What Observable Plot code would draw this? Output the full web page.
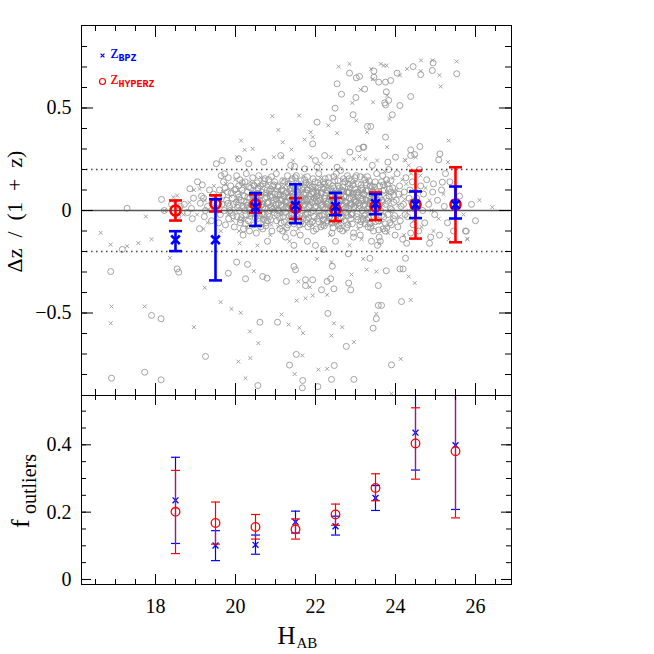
<!DOCTYPE html>
<html><head><meta charset="utf-8">
<script src="https://cdn.jsdelivr.net/npm/d3@7"></script>
<script src="https://cdn.jsdelivr.net/npm/@observablehq/plot@0.6"></script>
<style>
html,body{margin:0;padding:0;background:#fff;}
#chart{position:relative;width:654px;height:654px;overflow:hidden;}
#chart svg{display:block;}
</style></head><body><div id="chart"></div>
<script>
// ---------- DATA ----------
// Binned statistics (bin centres in H_AB)
const binH = [18.5, 19.5, 20.5, 21.5, 22.5, 23.5, 24.5, 25.5];
// top panel: median Δz/(1+z) and error bar ends
const bpzMean  = [-0.143, -0.143, 0.016, 0.024, 0.020, 0.033, 0.029, 0.029];
const bpzLow   = [-0.198, -0.341, -0.075, -0.062, -0.023, -0.018, -0.037, -0.039];
const bpzHigh  = [-0.101, 0.055, 0.085, 0.128, 0.086, 0.080, 0.093, 0.117];
const hypMean  = [0.000, 0.033, 0.030, 0.013, 0.005, 0.020, 0.029, 0.029];
const hypLow   = [-0.049, -0.005, -0.011, -0.041, -0.052, -0.047, -0.137, -0.155];
const hypHigh  = [0.049, 0.074, 0.078, 0.060, 0.061, 0.088, 0.194, 0.211];
// bottom panel: outlier fractions and error bar ends
const foutBpz      = [0.235, 0.101, 0.103, 0.171, 0.158, 0.242, 0.436, 0.399];
const foutBpzLow   = [0.107, 0.056, 0.075, 0.138, 0.132, 0.205, 0.325, 0.208];
const foutBpzHigh  = [0.363, 0.145, 0.132, 0.203, 0.188, 0.279, 0.580, 0.600];
const foutHyp      = [0.201, 0.168, 0.156, 0.149, 0.193, 0.272, 0.404, 0.381];
const foutHypLow   = [0.077, 0.105, 0.120, 0.120, 0.161, 0.234, 0.298, 0.183];
const foutHypHigh  = [0.324, 0.230, 0.193, 0.180, 0.224, 0.314, 0.510, 0.600];

// Individual galaxies: [H_AB, Δz/(1+z)] — crosses (BPZ)
const bpzOutliers = [[22.58,0.702],[22.85,0.715],[23.13,0.589],[22.92,0.525],[23.39,0.691],[23.44,0.641],[23.63,0.715],[23.71,0.707],[23.78,0.707],[23.79,0.561],[23.44,0.528],[24.11,0.659],[24.29,0.691],[24.64,0.732],[24.63,0.68],[24.93,0.732],[25.10,0.66],[25.13,0.605],[25.53,0.727],[23.02,0.439],[23.29,0.382],[23.85,0.447],[22.54,0.377],[21.88,0.382],[21.93,0.358],[22.32,0.415],[21.73,0.346],[21.59,0.463],[20.92,0.46],[21.07,0.393],[21.18,0.333],[20.43,0.301],[20.23,0.296],[20.14,0.341],[23.79,0.309],[25.33,0.341],[25.31,0.236],[24.23,0.247],[24.33,0.22],
[20.04,0.26],[20.96,0.26],[21.17,0.26],[21.44,0.244],[21.40,0.298],[21.88,0.26],[22.13,0.228],[22.38,0.26],[22.71,0.244],[22.96,0.252],[23.10,0.263],[23.25,0.252],[23.54,0.244],[24.25,0.244],[24.5,0.26],
[16.63,-0.109],[16.88,-0.166],[17.29,-0.174],[17.57,-0.159],[17.90,-0.140],[17.76,-0.029],[18.36,-0.231],[16.90,-0.468],[16.88,-0.55],[17.73,-0.468],[18.96,-0.569],[19.23,-0.377],[19.63,-0.447],[19.90,-0.48],[20.13,-0.499],[20.46,-0.296],[20.36,-0.59],[20.07,-0.737],[20.25,-0.818],[20.37,-0.72],[20.57,-0.647],[21.15,-0.507],[21.57,-0.346],[21.86,-0.374],[21.53,-0.439],[21.75,-0.428],[21.93,-0.415],[21.33,-0.556],[21.60,-0.572],[21.69,-0.598],[21.67,-0.707],[21.48,-0.798],[22.07,-0.776],[22.29,-0.772],[22.96,-0.642],[22.40,-0.61],[22.46,-0.55],[22.67,-0.569],[22.29,-0.411],[22.40,-0.252],[22.17,-0.192],[22.04,-0.236],[22.90,-0.312],[23.19,-0.236],[23.28,-0.288],[23.52,-0.298],[23.52,-0.504],[24.13,-0.724],[24.38,-0.436],[24.33,-0.322],[24.48,-0.354],[23.90,-0.894],[25.79,-0.138],
[21.35,-0.15],[22.85,-0.17],[23.15,-0.14],[23.6,-0.16],[20.55,-0.17],[20.1,-0.16]];
const bpzCore = [[18.23,0.0],[18.54,0.073],[18.96,0.1],[18.7,-0.02],[18.45,0.065],[18.85,0.04],
[19.1,0.105],[19.23,0.05],[19.3,-0.06],[19.38,0.03],[19.46,0.12],[19.2,-0.09],[19.04,-0.02],
[19.57,0.02],[19.63,-0.1],[19.69,0.09],[19.76,0.13],[19.81,-0.02],[19.87,0.07],[19.93,-0.05],[19.99,0.15],[19.6,0.05],
[20.05,0.06],[20.13,0.09],[20.17,-0.04],[20.21,0.03],[20.25,0.11],[20.29,-0.08],[20.33,0.02],[20.37,0.14],[20.41,0.06],[20.45,-0.03],[20.49,0.09],[20.09,-0.1],
[20.54,0.03],[20.6,0.09],[20.66,-0.05],[20.72,0.12],[20.78,0.02],[20.84,0.07],[20.9,-0.07],[20.96,0.1],[20.57,-0.02],[20.63,0.16],[20.75,0.04],[20.87,-0.12],[20.99,0.01],[20.81,0.13],
[21.04,0.06],[21.1,0.1],[21.16,-0.02],[21.22,0.04],[21.28,0.13],[21.34,-0.06],[21.4,0.08],[21.46,0.02],[21.07,-0.08],[21.19,0.15],[21.31,0.03],[21.43,-0.03],[21.13,0.085],[21.37,0.115],[21.25,-0.1],
[21.54,0.05],[21.6,0.1],[21.66,-0.03],[21.72,0.07],[21.78,0.14],[21.84,-0.05],[21.9,0.03],[21.96,0.11],[21.57,-0.09],[21.69,0.17],[21.81,0.0],[21.93,-0.07],[21.63,0.085],[21.75,0.04],[21.87,0.125],[21.99,0.06],
[22.03,0.03],[22.09,0.09],[22.15,-0.05],[22.21,0.12],[22.27,0.02],[22.33,0.07],[22.39,-0.07],[22.45,0.1],[22.06,-0.02],[22.12,0.16],[22.24,0.04],[22.36,-0.12],[22.48,0.01],[22.3,0.13],[22.18,0.065],[22.42,0.045],
[22.54,0.06],[22.6,0.1],[22.66,-0.02],[22.72,0.04],[22.78,0.13],[22.84,-0.06],[22.9,0.08],[22.96,0.02],[22.57,-0.08],[22.69,0.15],[22.81,0.03],[22.93,-0.03],[22.63,0.085],[22.87,0.115],[22.75,-0.1],[22.99,0.07],
[23.04,0.05],[23.1,0.1],[23.16,-0.03],[23.22,0.07],[23.28,0.14],[23.34,-0.05],[23.4,0.03],[23.46,0.11],[23.07,-0.09],[23.19,0.17],[23.31,0.0],[23.43,-0.07],[23.13,0.085],[23.25,0.04],[23.37,0.125],
[23.52,0.06],[23.58,0.1],[23.64,-0.06],[23.7,0.03],[23.76,0.13],[23.82,-0.11],[23.88,0.05],[23.94,0.16],[23.61,-0.02],[23.73,0.19],[23.85,0.0],[23.97,0.09],
[24.03,0.1],[24.09,-0.03],[24.15,0.07],[24.21,-0.12],[24.27,0.13],[24.33,0.0],[24.39,0.18],[24.45,-0.05],[24.17,0.15],
[24.55,0.02],[24.65,-0.08],[24.75,0.11],[24.85,0.05],[24.95,-0.1],[24.62,0.17],[24.9,0.0],
[25.08,-0.04],[25.2,0.08],[25.33,-0.14],[25.5,0.11],[25.7,-0.02],[25.8,-0.14],[26.42,0.016],[26.1,0.05],
[20.03,0.045],[20.19,0.125],[20.31,-0.035],[20.47,0.035],[20.61,0.055],[20.69,-0.035],[20.83,0.085],[20.93,0.025],[21.05,0.015],[21.21,0.115],[21.33,0.085],[21.47,-0.055],[21.59,0.035],[21.71,-0.015],[21.83,0.095],[21.97,-0.045],[22.05,0.105],[22.19,0.035],[22.31,-0.035],[22.47,0.075],[22.59,0.025],[22.73,0.095],[22.85,-0.015],[22.97,0.135],[23.05,0.015],[23.21,0.095],[23.33,0.055],[23.49,-0.025],[23.63,0.045],[23.79,0.085],[23.91,-0.045],[24.07,0.025],[24.23,0.055],[24.41,0.095]];

// circles (HYPERZ)
const hypOutliers = [[22.85,0.67],[22.54,0.618],[22.65,0.567],[23.02,0.647],[23.10,0.654],[23.23,0.592],[23.01,0.551],[22.49,0.499],[23.46,0.68],[23.46,0.65],[23.58,0.626],[23.75,0.626],[23.88,0.634],[23.77,0.579],[23.83,0.537],[23.75,0.515],[23.73,0.525],[24.11,0.512],[24.04,0.67],[24.44,0.702],[24.63,0.663],[24.92,0.683],[24.94,0.72],[25.53,0.667],[24.38,0.556],[22.94,0.467],[23.30,0.41],[23.38,0.41],[23.92,0.467],[22.43,0.45],[22.04,0.431],[21.93,0.325],[23.75,0.358],[24.61,0.312],[24.38,0.296],[23.21,0.309],[24.48,0.273],[25.11,0.276],[25.08,0.247],[24.0,0.26],[23.81,0.236],[25.17,0.138],
[19.52,0.228],[19.67,0.244],[19.73,0.179],[20.08,0.252],[20.33,0.228],[20.71,0.236],[21.13,0.268],[21.38,0.22],[21.48,0.215],[21.73,0.203],[22.0,0.244],[22.23,0.268],[22.04,0.211],[22.54,0.211],[22.63,0.195],[22.86,0.285],[23.08,0.301],[23.19,0.309],[23.42,0.22],[24.38,0.268],
[17.29,0.011],[17.17,-0.19],[18.54,-0.285],[18.58,-0.301],[16.88,-0.298],[17.90,-0.512],[18.14,-0.528],[16.9,-0.818],[17.73,-0.789],[18.14,-0.826],[19.25,-0.712],[19.82,-0.306],[20.03,-0.252],[20.30,-0.263],[20.25,-0.333],[20.68,-0.322],[20.79,-0.33],[20.61,-0.545],[20.56,-0.854],[21.27,-0.346],[21.46,-0.273],[21.5,-0.289],[21.75,-0.338],[21.75,-0.366],[21.93,-0.338],[21.52,-0.702],[21.35,-0.754],[21.68,-0.829],[21.67,-0.865],[22.06,-0.859],[22.47,-0.756],[22.40,-0.824],[22.96,-0.824],[22.77,-0.663],[22.31,-0.502],[22.15,-0.387],[22.29,-0.346],[22.38,-0.333],[22.46,-0.382],[22.42,-0.272],[22.82,-0.211],[22.83,-0.354],[22.88,-0.387],[23.36,-0.233],[23.77,-0.294],[23.57,-0.366],[23.57,-0.463],[23.65,-0.463],[23.52,-0.528],[23.44,-0.574],[23.90,-0.753],[24.15,-0.444],[24.11,-0.285],[24.19,-0.285],[24.25,-0.233],[25.77,-0.101],[21.05,-0.545],
[21.25,-0.13],[21.46,-0.17],[22.0,-0.17],[22.2,-0.19],[22.5,-0.15],[22.95,-0.13],[23.4,-0.15],[23.55,-0.17],[20.8,-0.15],[21.8,-0.15]];
const hypCore = [[18.15,0.054],[18.22,0.0],[18.4,0.03],[18.62,0.02],[18.86,0.106],[18.92,-0.04],[18.72,0.03],[18.8,-0.01],[18.95,0.06],[18.55,-0.03],[18.9,0.01],
[19.05,0.14],[19.17,0.125],[19.1,-0.089],[19.2,0.06],[19.25,0.0],[19.3,0.02],[19.12,0.035],[19.4,-0.05],[19.45,0.08],[19.35,0.1],[19.22,-0.03],[19.48,0.01],[19.15,0.07],[19.42,0.045],
[19.55,0.06],[19.6,0.1],[19.62,-0.02],[19.66,0.03],[19.7,0.14],[19.72,0.0],[19.75,-0.07],[19.78,0.05],[19.8,0.09],[19.83,-0.04],[19.85,0.02],[19.88,0.12],[19.9,-0.01],[19.92,0.06],[19.95,0.03],[19.97,-0.08],[19.58,-0.06],[19.68,0.075],[19.74,0.11],[19.86,0.0],[19.98,0.1],[19.64,0.17],[19.82,0.16],
[20.02,0.04],[20.04,-0.03],[20.06,0.08],[20.08,0.12],[20.1,0.0],[20.12,-0.06],[20.14,0.05],[20.16,0.1],[20.18,0.02],[20.2,-0.09],[20.22,0.07],[20.24,0.14],[20.26,-0.02],[20.28,0.04],[20.3,0.09],[20.32,-0.05],[20.34,0.01],[20.36,0.06],[20.38,0.11],[20.4,-0.01],[20.42,0.03],[20.44,0.08],[20.46,-0.07],[20.48,0.05],[20.03,0.17],[20.11,0.15],[20.19,-0.12],[20.27,0.18],[20.35,-0.1],[20.43,0.16],[20.07,0.025],[20.15,-0.035],[20.23,0.0],[20.31,0.065],[20.39,0.03],[20.47,0.12],
[20.51,0.02],[20.53,0.07],[20.55,-0.04],[20.57,0.11],[20.59,0.0],[20.61,0.05],[20.63,-0.08],[20.65,0.09],[20.67,0.03],[20.69,0.13],[20.71,-0.02],[20.73,0.06],[20.75,0.01],[20.77,-0.06],[20.79,0.1],[20.81,0.04],[20.83,0.15],[20.85,-0.03],[20.87,0.07],[20.89,0.02],[20.91,-0.1],[20.93,0.12],[20.95,0.05],[20.97,-0.01],[20.99,0.08],[20.52,-0.11],[20.58,0.17],[20.64,0.025],[20.7,-0.045],[20.76,0.085],[20.82,-0.015],[20.88,0.105],[20.94,0.035],[20.56,0.045],[20.62,0.12],[20.68,-0.09],[20.74,0.155],[20.8,-0.05],[20.86,0.0],[20.92,0.065],[20.98,0.14],
[21.01,0.03],[21.03,-0.05],[21.05,0.08],[21.07,0.12],[21.09,0.0],[21.11,-0.09],[21.13,0.05],[21.15,0.1],[21.17,0.02],[21.19,-0.03],[21.21,0.07],[21.23,0.14],[21.25,-0.01],[21.27,0.04],[21.29,0.09],[21.31,-0.07],[21.33,0.01],[21.35,0.06],[21.37,0.11],[21.39,-0.02],[21.41,0.03],[21.43,0.08],[21.45,-0.11],[21.47,0.05],[21.49,0.16],[21.02,0.18],[21.08,0.035],[21.14,-0.06],[21.2,0.095],[21.26,0.015],[21.32,0.13],[21.38,-0.04],[21.44,0.065],[21.06,0.0],[21.12,0.075],[21.18,-0.1],[21.24,0.045],[21.3,0.17],[21.36,0.025],[21.42,-0.015],[21.48,0.105],[21.04,-0.02],[21.16,0.055],[21.28,-0.085],[21.4,0.145],
[21.51,0.04],[21.53,-0.03],[21.55,0.09],[21.57,0.13],[21.59,0.01],[21.61,-0.07],[21.63,0.06],[21.65,0.11],[21.67,0.0],[21.69,-0.04],[21.71,0.08],[21.73,0.15],[21.75,-0.02],[21.77,0.05],[21.79,0.1],[21.81,-0.08],[21.83,0.02],[21.85,0.07],[21.87,0.12],[21.89,-0.01],[21.91,0.04],[21.93,0.09],[21.95,-0.1],[21.97,0.06],[21.99,0.14],[21.52,0.17],[21.58,0.035],[21.64,-0.055],[21.7,0.025],[21.76,0.135],[21.82,-0.035],[21.88,0.055],[21.94,0.0],[21.56,0.075],[21.62,-0.12],[21.68,0.1],[21.74,0.03],[21.8,0.165],[21.86,-0.065],[21.92,0.115],[21.98,0.015],[21.54,-0.015],[21.66,0.045],[21.78,-0.045],[21.9,0.08],[21.96,-0.03],[21.6,0.12],
[22.01,0.02],[22.03,0.07],[22.05,-0.04],[22.07,0.11],[22.09,0.0],[22.11,0.05],[22.13,-0.08],[22.15,0.09],[22.17,0.03],[22.19,0.14],[22.21,-0.02],[22.23,0.06],[22.25,0.01],[22.27,-0.06],[22.29,0.1],[22.31,0.04],[22.33,0.16],[22.35,-0.03],[22.37,0.07],[22.39,0.02],[22.41,-0.11],[22.43,0.12],[22.45,0.05],[22.47,-0.01],[22.49,0.08],[22.02,-0.09],[22.08,0.18],[22.14,0.025],[22.2,-0.045],[22.26,0.085],[22.32,-0.015],[22.38,0.105],[22.44,0.035],[22.06,0.045],[22.12,0.125],[22.18,-0.07],[22.24,0.155],[22.3,-0.05],[22.36,0.0],[22.42,0.065],[22.48,0.145],[22.04,0.09],[22.16,-0.025],[22.28,0.03],[22.4,-0.06],[22.46,0.11],[22.1,0.06],[22.22,0.13],[22.34,0.055],
[22.51,0.03],[22.53,-0.05],[22.55,0.08],[22.57,0.12],[22.59,0.0],[22.61,-0.09],[22.63,0.05],[22.65,0.1],[22.67,0.02],[22.69,-0.03],[22.71,0.07],[22.73,0.14],[22.75,-0.01],[22.77,0.04],[22.79,0.09],[22.81,-0.07],[22.83,0.01],[22.85,0.06],[22.87,0.11],[22.89,-0.02],[22.91,0.03],[22.93,0.08],[22.95,-0.11],[22.97,0.05],[22.99,0.16],[22.52,0.18],[22.58,0.035],[22.64,-0.06],[22.7,0.095],[22.76,0.015],[22.82,0.13],[22.88,-0.04],[22.94,0.065],[22.56,0.0],[22.62,0.075],[22.68,-0.1],[22.74,0.045],[22.8,0.17],[22.86,0.025],[22.92,-0.015],[22.98,0.105],[22.54,-0.02],[22.66,0.055],[22.78,-0.085],[22.9,0.145],[22.6,0.11],[22.72,-0.05],[22.84,0.09],[22.96,0.02],
[23.01,0.04],[23.03,-0.03],[23.05,0.09],[23.07,0.13],[23.09,0.01],[23.11,-0.07],[23.13,0.06],[23.15,0.11],[23.17,0.0],[23.19,-0.04],[23.21,0.08],[23.23,0.15],[23.25,-0.02],[23.27,0.05],[23.29,0.1],[23.31,-0.08],[23.33,0.02],[23.35,0.07],[23.37,0.12],[23.39,-0.01],[23.41,0.04],[23.43,0.09],[23.45,-0.1],[23.47,0.06],[23.49,0.14],[23.02,0.17],[23.08,0.035],[23.14,-0.055],[23.2,0.025],[23.26,0.135],[23.32,-0.035],[23.38,0.055],[23.44,0.0],[23.06,0.075],[23.12,-0.12],[23.18,0.1],[23.24,0.03],[23.3,0.165],[23.36,-0.065],[23.42,0.115],[23.48,0.015],[23.04,-0.015],[23.16,0.045],[23.28,-0.045],[23.4,0.08],[23.46,-0.03],
[23.51,0.02],[23.54,0.08],[23.57,-0.05],[23.6,0.12],[23.63,0.0],[23.66,0.05],[23.69,-0.09],[23.72,0.1],[23.75,0.03],[23.78,0.15],[23.81,-0.02],[23.84,0.07],[23.87,0.01],[23.9,-0.07],[23.93,0.11],[23.96,0.04],[23.99,-0.12],[23.53,0.18],[23.59,-0.13],[23.65,0.14],[23.71,-0.03],[23.77,0.06],[23.83,0.2],[23.89,0.09],[23.95,-0.04],[23.56,0.05],[23.62,-0.15],[23.68,0.17],[23.74,-0.1],[23.8,0.13],[23.86,-0.06],
[24.02,0.05],[24.06,-0.08],[24.1,0.12],[24.14,0.02],[24.18,-0.14],[24.22,0.09],[24.26,0.16],[24.3,-0.03],[24.34,0.06],[24.38,-0.11],[24.42,0.14],[24.46,0.01],[24.04,0.18],[24.12,-0.05],[24.2,0.03],[24.28,-0.16],[24.36,0.1],[24.44,-0.07],[24.08,0.08],[24.24,-0.02],[24.4,0.04],
[24.53,0.06],[24.58,-0.1],[24.63,0.12],[24.68,0.0],[24.73,-0.06],[24.78,0.15],[24.83,0.03],[24.88,-0.13],[24.93,0.09],[24.98,-0.02],[24.6,0.2],[24.7,0.08],[24.85,-0.16],[24.95,0.13],
[25.05,0.05],[25.1,-0.12],[25.15,0.1],[25.22,0.02],[25.3,-0.06],[25.36,0.14],[25.45,-0.1],[25.6,0.07],[25.75,-0.1],[25.9,0.03],[26.0,-0.05],[25.25,0.18],
[19.81,0.035],[19.89,0.085],[19.94,-0.025],[20.01,0.105],[20.05,0.015],[20.09,0.065],[20.13,-0.045],[20.17,0.135],[20.21,0.045],[20.25,-0.065],[20.29,0.025],[20.33,0.115],[20.37,-0.015],[20.41,0.075],[20.45,0.125],[20.49,-0.035],
[20.52,0.055],[20.56,0.105],[20.6,-0.025],[20.64,0.075],[20.68,0.015],[20.72,0.145],[20.76,-0.075],[20.8,0.035],[20.84,0.095],[20.88,-0.045],[20.92,0.005],[20.96,0.125],[20.54,0.135],[20.66,-0.015],[20.78,0.065],[20.9,0.165],
[21.02,0.055],[21.06,0.115],[21.1,-0.035],[21.14,0.025],[21.18,0.145],[21.22,-0.055],[21.26,0.085],[21.3,0.045],[21.34,-0.025],[21.38,0.095],[21.42,0.155],[21.46,-0.065],[21.5,0.065],[21.08,0.075],[21.2,0.005],[21.32,0.065],[21.44,0.025],
[21.52,0.095],[21.56,0.005],[21.6,0.055],[21.64,0.145],[21.68,-0.065],[21.72,0.045],[21.76,0.085],[21.8,-0.015],[21.84,0.125],[21.88,0.025],[21.92,-0.055],[21.96,0.085],[21.58,-0.045],[21.7,0.115],[21.82,0.055],[21.94,0.155],
[22.02,0.055],[22.06,0.135],[22.1,-0.025],[22.14,0.085],[22.18,0.015],[22.22,-0.075],[22.26,0.045],[22.3,0.095],[22.34,-0.035],[22.38,0.065],[22.42,0.015],[22.46,0.165],[22.5,-0.055],[22.08,-0.055],[22.2,0.105],[22.32,0.135],[22.44,-0.085],
[22.52,0.085],[22.56,0.145],[22.6,0.045],[22.64,-0.035],[22.68,0.115],[22.72,0.005],[22.76,0.065],[22.8,-0.025],[22.84,0.155],[22.88,0.035],[22.92,-0.065],[22.96,0.085],[23.0,0.045],[22.58,-0.075],[22.7,0.155],[22.82,0.085],[22.94,0.125],
[23.02,0.085],[23.06,-0.045],[23.1,0.025],[23.14,0.125],[23.18,0.055],[23.22,-0.025],[23.26,0.095],[23.3,0.005],[23.34,0.145],[23.38,-0.085],[23.42,0.045],[23.46,0.085],[23.5,-0.055],[23.12,0.165],[23.24,-0.065],[23.36,0.035],[23.48,0.115],
[23.55,0.025],[23.6,0.065],[23.65,-0.025],[23.7,0.125],[23.75,-0.065],[23.8,0.045],[23.85,0.105],[23.9,0.005],[23.95,0.075],[23.58,-0.095],[23.68,0.095],[23.78,-0.085],[23.88,0.145],[23.98,-0.025]];

// Axis ticks
const xTickLabels = [18, 20, 22, 24, 26];
const xMinorTicks = d3.range(16.5, 26.9, 0.5);
const yTopTickLabels = [-0.5, 0, 0.5];
const yTopMinorTicks = d3.range(-8, 9).map(d => d / 10);
const yBotTickLabels = [0, 0.2, 0.4];
const yBotMinorTicks = d3.range(0, 11).map(d => d / 20);
const refLines = [-0.2, 0.2];

// ---------- LAYOUT ----------
const W = 654, ML = 81, MR = 143;
const FW = W - ML - MR;
const TOP_H = 395, TOP_MT = 25;
const BOT_H = 259, BOT_MB = 70;
const X_DOMAIN = [16.15, 26.9];
const FONT = "Liberation Serif";
const MONO = "Liberation Mono";

const hypScatter = hypOutliers.concat(hypCore);
const bpzScatter = bpzOutliers.concat(bpzCore);
const bins = binH.map((h, i) => ({
  h, bm: bpzMean[i], bl: bpzLow[i], bh: bpzHigh[i],
  hm: hypMean[i], hl: hypLow[i], hh: hypHigh[i],
  fb: foutBpz[i], fbl: foutBpzLow[i], fbh: foutBpzHigh[i],
  fh: foutHyp[i], fhl: foutHypLow[i], fhh: foutHypHigh[i]
}));

const capSymbol = { draw(ctx, size) { const w = Math.sqrt(size / Math.PI); ctx.moveTo(-w, 0); ctx.lineTo(w, 0); } };
const fmt = d => d === 0 ? "0" : (d < 0 ? "\u2212" : "") + Math.abs(d);

function frameTicks(fh, maj, min, yMaj, yMin) {
  const s = {stroke: "black", strokeWidth: 1};
  return [
    Plot.ruleX(xMinorTicks, {...s, insetBottom: fh - min}),
    Plot.ruleX(xMinorTicks, {...s, insetTop: fh - min}),
    Plot.ruleX(xTickLabels, {...s, insetBottom: fh - maj}),
    Plot.ruleX(xTickLabels, {...s, insetTop: fh - maj}),
    Plot.ruleY(yMin, {...s, insetRight: FW - min}),
    Plot.ruleY(yMin, {...s, insetLeft: FW - min}),
    Plot.ruleY(yMaj, {...s, insetRight: FW - maj}),
    Plot.ruleY(yMaj, {...s, insetLeft: FW - maj})
  ];
}

const topPlot = Plot.plot({
  width: W, height: TOP_H, marginTop: TOP_MT, marginBottom: 0, marginLeft: ML, marginRight: MR,
  style: {fontFamily: FONT, background: "white", color: "black"},
  x: {domain: X_DOMAIN, axis: null},
  y: {domain: [-0.9024, 0.9024], axis: null},
  marks: [
    Plot.dot(hypScatter, {x: d => d[0], y: d => d[1], r: 3, stroke: "#999", strokeWidth: 0.9, clip: true}),
    Plot.dot(bpzScatter, {x: d => d[0], y: d => d[1], symbol: "times", r: 1.9, stroke: "#999", strokeWidth: 0.9, clip: true}),
    Plot.ruleY([0], {stroke: "#555", strokeWidth: 1.6}),
    Plot.ruleY(refLines, {stroke: "#444", strokeWidth: 1.4, strokeDasharray: "1.5,3.5"}),
    // HYPERZ binned
    Plot.ruleX(bins, {x: "h", y1: "hl", y2: "hh", stroke: "red", strokeWidth: 2.6}),
    Plot.dot(bins, {x: "h", y: "hl", symbol: capSymbol, r: 6.5, stroke: "red", strokeWidth: 2.6}),
    Plot.dot(bins, {x: "h", y: "hh", symbol: capSymbol, r: 6.5, stroke: "red", strokeWidth: 2.6}),
    Plot.dot(bins, {x: "h", y: "hm", r: 5, stroke: "red", strokeWidth: 2.6}),
    // BPZ binned
    Plot.ruleX(bins, {x: "h", y1: "bl", y2: "bh", stroke: "blue", strokeWidth: 2.6}),
    Plot.dot(bins, {x: "h", y: "bl", symbol: capSymbol, r: 6.5, stroke: "blue", strokeWidth: 2.6}),
    Plot.dot(bins, {x: "h", y: "bh", symbol: capSymbol, r: 6.5, stroke: "blue", strokeWidth: 2.6}),
    Plot.dot(bins, {x: "h", y: "bm", symbol: "times", r: 4, stroke: "blue", strokeWidth: 2.6}),
    ...frameTicks(TOP_H - TOP_MT, 12, 6, yTopTickLabels, yTopMinorTicks),
    Plot.frame({stroke: "black", strokeWidth: 1}),
    Plot.axisY(yTopTickLabels, {tickSize: 0, tickPadding: 10, fontSize: 20, fontFamily: FONT, label: null, tickFormat: fmt}),
    Plot.text(["\u0394z\u2002/\u2002(1\u2002+\u2002z)"], {frameAnchor: "left", rotate: -90, dx: -60, dy: 1, fontSize: 22, fontFamily: FONT, lineAnchor: "bottom", textAnchor: "middle"}),
    // legend
    Plot.dot([0], {x: null, y: null, frameAnchor: "top-left", dx: 21, dy: 30, symbol: "times", r: 1.9, stroke: "blue", strokeWidth: 1.2}),
    Plot.text(["z"], {frameAnchor: "top-left", dx: 29, dy: 32, fontSize: 18, fontFamily: FONT, fill: "blue", textAnchor: "start", lineAnchor: "bottom"}),
    Plot.text(["BPZ"], {frameAnchor: "top-left", dx: 37, dy: 35, fontSize: 10, fontFamily: MONO, fontWeight: "bold", fill: "blue", textAnchor: "start", lineAnchor: "bottom"}),
    Plot.dot([0], {x: null, y: null, frameAnchor: "top-left", dx: 21, dy: 56, r: 3, stroke: "red", strokeWidth: 1.2}),
    Plot.text(["z"], {frameAnchor: "top-left", dx: 29, dy: 58, fontSize: 18, fontFamily: FONT, fill: "red", textAnchor: "start", lineAnchor: "bottom"}),
    Plot.text(["HYPERZ"], {frameAnchor: "top-left", dx: 37, dy: 61, fontSize: 10, fontFamily: MONO, fontWeight: "bold", fill: "red", textAnchor: "start", lineAnchor: "bottom"})
  ]
});

const botPlot = Plot.plot({
  width: W, height: BOT_H, marginTop: 0, marginBottom: BOT_MB, marginLeft: ML, marginRight: MR,
  style: {fontFamily: FONT, background: "white", color: "black"},
  x: {domain: X_DOMAIN},
  y: {domain: [-0.0149, 0.5465], axis: null},
  marks: [
    Plot.ruleX(bins, {x: "h", y1: "fbl", y2: "fbh", stroke: "blue", strokeWidth: 1.2, clip: true}),
    Plot.dot(bins, {x: "h", y: "fbl", symbol: capSymbol, r: 4.5, stroke: "blue", strokeWidth: 1.2, clip: true}),
    Plot.dot(bins, {x: "h", y: "fbh", symbol: capSymbol, r: 4.5, stroke: "blue", strokeWidth: 1.2, clip: true}),
    Plot.dot(bins, {x: "h", y: "fb", symbol: "times", r: 2.8, stroke: "blue", strokeWidth: 1.3}),
    Plot.ruleX(bins, {x: "h", y1: "fhl", y2: "fhh", stroke: "red", strokeWidth: 1.2, clip: true}),
    Plot.dot(bins, {x: "h", y: "fhl", symbol: capSymbol, r: 4.5, stroke: "red", strokeWidth: 1.2, clip: true}),
    Plot.dot(bins, {x: "h", y: "fhh", symbol: capSymbol, r: 4.5, stroke: "red", strokeWidth: 1.2, clip: true}),
    Plot.dot(bins, {x: "h", y: "fh", r: 4.3, stroke: "red", strokeWidth: 1.3}),
    ...frameTicks(BOT_H - BOT_MB, 10, 5, yBotTickLabels, yBotMinorTicks),
    Plot.frame({stroke: "black", strokeWidth: 1}),
    Plot.axisY(yBotTickLabels, {tickSize: 0, tickPadding: 10, fontSize: 20, fontFamily: FONT, label: null, tickFormat: fmt}),
    Plot.axisX(xTickLabels, {tickSize: 0, tickPadding: 14, fontSize: 20, fontFamily: FONT, label: null}),
    Plot.text(["f"], {frameAnchor: "left", rotate: -90, dx: -53, dy: 38, fontSize: 26, fontFamily: FONT, lineAnchor: "bottom", textAnchor: "start"}),
    Plot.text(["outliers"], {frameAnchor: "left", rotate: -90, dx: -46, dy: 24, fontSize: 20, fontFamily: FONT, lineAnchor: "bottom", textAnchor: "start"}),
    Plot.text(["H"], {frameAnchor: "bottom", dx: -1, dy: 59, fontSize: 25, fontFamily: FONT, lineAnchor: "bottom", textAnchor: "end"}),
    Plot.text(["AB"], {frameAnchor: "bottom", dx: 0, dy: 63, fontSize: 15, fontFamily: FONT, lineAnchor: "bottom", textAnchor: "start"})
  ]
});

const chart = document.getElementById("chart");
chart.appendChild(topPlot);
chart.appendChild(botPlot);
</script></body></html>
